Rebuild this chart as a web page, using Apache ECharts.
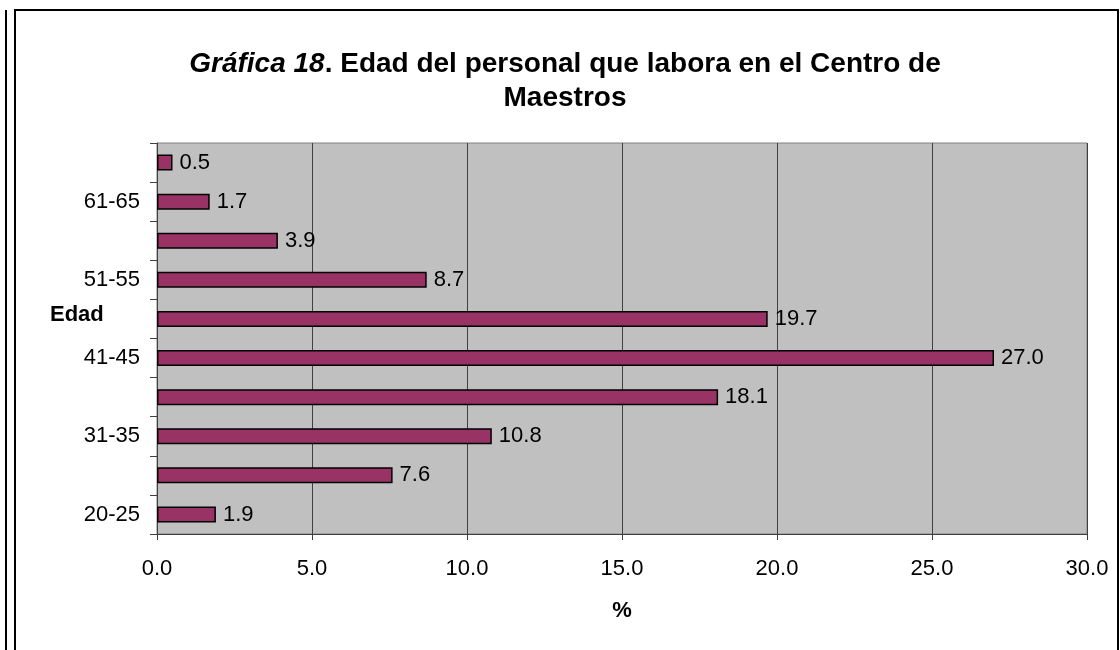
<!DOCTYPE html>
<html>
<head>
<meta charset="utf-8">
<script src="https://cdn.jsdelivr.net/npm/echarts@6/dist/echarts.min.js"></script>
<style>
  html, body { margin: 0; padding: 0; background: #fff; }
  #myChart { width: 1120px; height: 650px; }
</style>
</head>
<body>
<div id="myChart"></div>
<script>
// edades (de abajo hacia arriba) y porcentaje del personal
var edades = ['20-25', '26-30', '31-35', '36-40', '41-45', '46-50', '51-55', '56-60', '61-65', '66-70'];
var porcentajes = [1.9, 7.6, 10.8, 18.1, 27.0, 19.7, 8.7, 3.9, 1.7, 0.5];
var ticksX = [0, 5, 10, 15, 20, 25, 30];

var font = '"Liberation Sans", Arial, sans-serif';
var myChart = echarts.init(document.getElementById('myChart'));

myChart.setOption({
  animation: false,
  title: {
    text: '{i|Gráfica 18}{b|. Edad del personal que labora en el Centro de}\n{b|Maestros}',
    left: 560,
    top: 42,
    textAlign: 'center',
    textStyle: {
      rich: {
        i: { fontFamily: font, fontSize: 28, fontWeight: 'bold', fontStyle: 'italic', color: '#000', lineHeight: 34, align: 'center' },
        b: { fontFamily: font, fontSize: 28, fontWeight: 'bold', color: '#000', lineHeight: 34, align: 'center' }
      }
    }
  },
  grid: {
    left: 157,
    right: 33,
    top: 143,
    bottom: 116,
    show: true,
    backgroundColor: '#C0C0C0',
    borderColor: '#808080',
    borderWidth: 1
  },
  xAxis: {
    type: 'value',
    min: ticksX[0],
    max: ticksX[ticksX.length - 1],
    interval: 5,
    name: '%',
    nameLocation: 'middle',
    nameGap: 66,
    nameTextStyle: { fontFamily: font, fontSize: 22, fontWeight: 'bold', color: '#000' },
    axisLine: { show: true, lineStyle: { color: '#404040', width: 1 } },
    axisTick: { show: true, length: 6, lineStyle: { color: '#404040' } },
    axisLabel: {
      margin: 24,
      fontFamily: font,
      fontSize: 22,
      color: '#000',
      formatter: function (v) { return v.toFixed(1); }
    },
    splitLine: { show: true, lineStyle: { color: '#404040', width: 1 } }
  },
  yAxis: {
    type: 'category',
    data: edades,
    axisLine: { show: true, lineStyle: { color: '#404040', width: 1 } },
    axisTick: { show: true, interval: 0, length: 7, inside: false, lineStyle: { color: '#404040' } },
    axisLabel: {
      interval: 1,
      margin: 17,
      fontFamily: font,
      fontSize: 22,
      color: '#000'
    },
    splitLine: { show: false }
  },
  graphic: [
    { type: 'rect', shape: { x: 15, y: 10, width: 1103, height: 660 }, style: { fill: 'none', stroke: '#000', lineWidth: 2 }, silent: true, z: -1 },
    { type: 'line', shape: { x1: 6, y1: 10, x2: 6, y2: 660 }, style: { stroke: '#000', lineWidth: 2 }, silent: true },
    { type: 'text', left: 50, top: 304, style: { text: 'Edad', fontFamily: font, fontSize: 22, fontWeight: 'bold', fill: '#000' } }
  ],
  series: [{
    name: 'Edad',
    type: 'bar',
    data: porcentajes,
    barWidth: 16,
    itemStyle: { color: '#993366', borderColor: '#000', borderWidth: 1.5 },
    label: {
      show: true,
      position: 'right',
      distance: 7,
      fontFamily: font,
      fontSize: 22,
      color: '#000',
      formatter: function (p) { return p.value.toFixed(1); }
    }
  }]
});
</script>
</body>
</html>
